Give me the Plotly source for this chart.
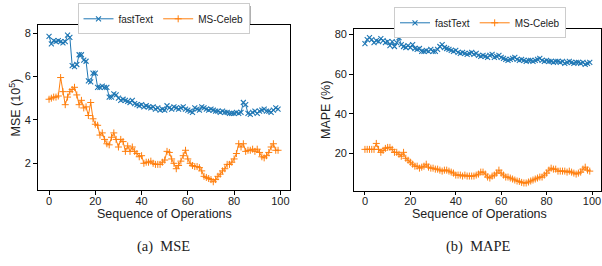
import plotly.graph_objects as go

ops = list(range(100))

mse_fasttext = [7.85, 7.5, 7.65, 7.6, 7.65, 7.6, 7.55, 7.6, 7.9, 7.8,
                6.5, 6.45, 6.55, 7.0, 7.0, 6.75, 6.7, 5.8, 5.75, 6.15,
                6.15, 5.5, 5.5, 5.55, 5.5, 5.5, 5.05, 5.05, 5.2, 5.15,
                5.0, 4.9, 4.95, 4.9, 4.85, 4.8, 4.9, 4.75, 4.7, 4.65,
                4.7, 4.6, 4.65, 4.6, 4.55, 4.6, 4.5, 4.55, 4.45, 4.5,
                4.45, 4.65, 4.55, 4.5, 4.6, 4.55, 4.5, 4.55, 4.6, 4.5,
                4.45, 4.4, 4.35, 4.55, 4.5, 4.45, 4.6, 4.55, 4.5, 4.45,
                4.5, 4.45, 4.4, 4.4, 4.35, 4.4, 4.35, 4.35, 4.3, 4.3,
                4.3, 4.35, 4.3, 4.35, 4.8, 4.7, 4.3, 4.25, 4.35, 4.4,
                4.3, 4.4, 4.45, 4.5, 4.4, 4.4, 4.35, 4.45, 4.55, 4.5]

mse_msceleb = [4.95, 5.0, 5.05, 5.05, 5.1, 5.95, 5.3, 4.7, 5.05, 5.3,
               5.4, 5.5, 5.15, 4.7, 4.9, 4.55, 4.6, 4.2, 4.8, 4.05,
               3.8, 3.75, 3.3, 3.4, 3.1, 2.9, 2.85, 3.2, 3.4, 3.1,
               2.75, 3.1, 3.0, 2.55, 2.8, 2.55, 2.75, 2.55, 2.45, 2.3,
               2.35, 2.0, 2.05, 2.05, 2.1, 2.0, 1.95, 1.95, 1.95, 2.05,
               2.15, 2.55, 2.5, 2.2, 2.0, 1.75, 1.9, 2.1, 2.35, 2.6,
               2.2, 2.0, 1.9, 1.85, 1.85, 1.8, 1.65, 1.4, 1.35, 1.3,
               1.25, 1.15, 1.25, 1.4, 1.5, 1.65, 1.75, 1.95, 1.95, 2.05,
               2.2, 2.45, 2.9, 2.75, 2.9, 2.55, 2.6, 2.6, 2.65, 2.55,
               2.65, 2.5, 2.3, 2.25, 2.35, 2.5, 2.75, 2.9, 2.6, 2.6]

mape_fasttext = [75.5, 77.5, 78.5, 77.5, 76.0, 77.0, 76.5, 78.0, 77.0, 76.0,
                 76.5, 74.5, 76.5, 74.0, 76.0, 78.5, 75.0, 74.0, 73.5, 74.5,
                 73.5, 75.0, 73.0, 72.5, 73.0, 71.5, 71.5, 72.0, 71.5, 72.5,
                 71.5, 71.5, 72.5, 74.0, 75.0, 73.5, 73.0, 72.5, 72.0, 71.5,
                 72.0, 71.0, 70.5, 71.0, 70.5, 70.0, 70.5, 71.0, 70.0, 70.5,
                 69.5, 69.0, 69.5, 69.0, 68.5, 69.5, 70.0, 68.5, 69.0, 69.5,
                 68.5, 68.0, 67.5, 67.0, 67.5, 68.0, 68.5, 67.5, 67.0, 67.5,
                 67.0, 66.5, 67.0, 67.0, 66.5, 67.0, 67.5, 68.0, 67.0, 66.5,
                 67.0, 66.5, 66.5, 66.0, 66.5, 66.5, 66.0, 66.5, 65.5, 66.0,
                 66.5, 66.0, 65.5, 66.0, 66.0, 65.5, 66.0, 65.0, 65.5, 66.0]

mape_msceleb = [22, 22, 22, 22, 22, 25, 22, 20.5, 21.5, 22.5,
                23, 23, 22, 20.5, 20.5, 19.5, 18.5, 20.5, 17.5, 16.5,
                15.5, 14.5, 13.5, 13.5, 12.5, 13, 13.5, 14.5, 13, 12.5,
                12.5, 12, 12, 11.5, 11, 11.5, 11.5, 11, 10.5, 10,
                9, 9, 9, 8.5, 9, 8.5, 8.5, 8.5, 8.5, 9,
                9.5, 10.5, 10.5, 9.5, 8, 7.5, 8.5, 9, 10, 11.5,
                10, 9, 8, 8, 7.5, 7, 6.5, 6, 5.8, 5.3,
                5, 5, 5.5, 6, 6.5, 7, 7.5, 8, 8, 9,
                10, 11.5, 12.5, 12, 12, 11, 11, 11, 11, 10.5,
                11, 10.5, 10, 9.5, 10, 10.5, 12, 13, 11.5, 11]

x_ticks = [0, 20, 40, 60, 80, 100]
mse_ticks = [2, 4, 6, 8]
mape_ticks = [20, 40, 60, 80]

W, H = 602, 266
BLUE = "#1f77b4"
ORANGE = "#ff7f0e"
TXT = "#222222"
SANS = "Liberation Sans, Arial, sans-serif"
SERIF = "Liberation Serif, Times New Roman, serif"


def px_x(p):
    return p / W


def px_y(p):
    return (H - p) / H


fig = go.Figure()

blue_m = dict(symbol="x-thin", size=5, line=dict(color=BLUE, width=1.1), color=BLUE)
orange_m = dict(symbol="cross-thin", size=5, line=dict(color=ORANGE, width=1), color=ORANGE)

fig.add_trace(go.Scatter(x=ops, y=mse_fasttext, mode="lines+markers", name="fastText",
                         line=dict(color=BLUE, width=1), marker=blue_m,
                         xaxis="x", yaxis="y", legend="legend"))
fig.add_trace(go.Scatter(x=ops, y=mse_msceleb, mode="lines+markers", name="MS-Celeb",
                         line=dict(color=ORANGE, width=1), marker=orange_m,
                         xaxis="x", yaxis="y", legend="legend"))
fig.add_trace(go.Scatter(x=ops, y=mape_fasttext, mode="lines+markers", name="fastText",
                         line=dict(color=BLUE, width=1), marker=blue_m,
                         xaxis="x2", yaxis="y2", legend="legend2"))
fig.add_trace(go.Scatter(x=ops, y=mape_msceleb, mode="lines+markers", name="MS-Celeb",
                         line=dict(color=ORANGE, width=1), marker=orange_m,
                         xaxis="x2", yaxis="y2", legend="legend2"))

axis_common = dict(showline=True, linecolor="black", linewidth=1, mirror=True,
                   ticks="outside", ticklen=3.5, tickwidth=1, tickcolor="black",
                   showgrid=False, zeroline=False, automargin=False,
                   tickfont=dict(family=SANS, size=11, color=TXT))

legend_common = dict(orientation="h", xanchor="left", yanchor="top",
                     bgcolor="white", bordercolor="#cccccc", borderwidth=1,
                     font=dict(family=SANS, size=10, color=TXT),
                     itemwidth=30, tracegroupgap=0)

A_L, A_R, A_T, A_B = 37.6, 289.5, 25, 190
B_L, B_R, B_T, B_B = 353.7, 601, 29.3, 190.7

fig.update_layout(
    width=W, height=H,
    margin=dict(l=0, r=0, t=0, b=0, autoexpand=False),
    paper_bgcolor="white", plot_bgcolor="white",
    xaxis=dict(domain=[px_x(A_L), px_x(A_R)], range=[-4.95, 103.95],
               tickvals=x_ticks, anchor="y", ticklabelstandoff=-3, **axis_common),
    yaxis=dict(domain=[px_y(A_B), px_y(A_T)], range=[0.77, 8.37],
               tickvals=mse_ticks, anchor="x", **axis_common),
    xaxis2=dict(domain=[px_x(B_L), px_x(B_R)], range=[-4.95, 103.95],
                tickvals=x_ticks, anchor="y2", ticklabelstandoff=-3, **axis_common),
    yaxis2=dict(domain=[px_y(B_B), px_y(B_T)], range=[1.1, 82.7],
                tickvals=mape_ticks, anchor="x2", **axis_common),
    legend=dict(x=px_x(77.5), y=px_y(3.3), **legend_common),
    legend2=dict(x=px_x(394), y=px_y(7.3), **legend_common),
    showlegend=True,
    annotations=[
        dict(text="MSE (10<sup>5</sup>)", x=px_x(14), y=px_y((A_T + A_B) / 2),
             xref="paper", yref="paper", textangle=-90, showarrow=False,
             font=dict(family=SANS, size=12.5, color=TXT), xanchor="center", yanchor="middle"),
        dict(text="MAPE (%)", x=px_x(326), y=px_y((B_T + B_B) / 2),
             xref="paper", yref="paper", textangle=-90, showarrow=False,
             font=dict(family=SANS, size=12.5, color=TXT), xanchor="center", yanchor="middle"),
        dict(text="Sequence of Operations", x=px_x(164.5), y=px_y(214),
             xref="paper", yref="paper", showarrow=False,
             font=dict(family=SANS, size=12.5, color=TXT), xanchor="center", yanchor="middle"),
        dict(text="Sequence of Operations", x=px_x(479), y=px_y(214),
             xref="paper", yref="paper", showarrow=False,
             font=dict(family=SANS, size=12.5, color=TXT), xanchor="center", yanchor="middle"),
        dict(text="(a)  MSE", x=px_x(163), y=px_y(246), xref="paper", yref="paper",
             showarrow=False, font=dict(family=SERIF, size=14.5, color=TXT),
             xanchor="center", yanchor="middle"),
        dict(text="(b)  MAPE", x=px_x(478), y=px_y(246), xref="paper", yref="paper",
             showarrow=False, font=dict(family=SERIF, size=14.5, color=TXT),
             xanchor="center", yanchor="middle"),
    ],
    shapes=[
        dict(type="rect", xref="paper", yref="paper",
             x0=px_x(80), x1=px_x(251), y0=px_y(24), y1=px_y(6),
             fillcolor="#b0b0b0", line=dict(width=0), layer="above"),
        dict(type="rect", xref="paper", yref="paper",
             x0=px_x(396.5), x1=px_x(565), y0=px_y(28), y1=px_y(10),
             fillcolor="#b0b0b0", line=dict(width=0), layer="above"),
    ],
)

fig.write_html("out.html", config={"displayModeBar": False},
               post_script="document.body.style.margin='0';")
